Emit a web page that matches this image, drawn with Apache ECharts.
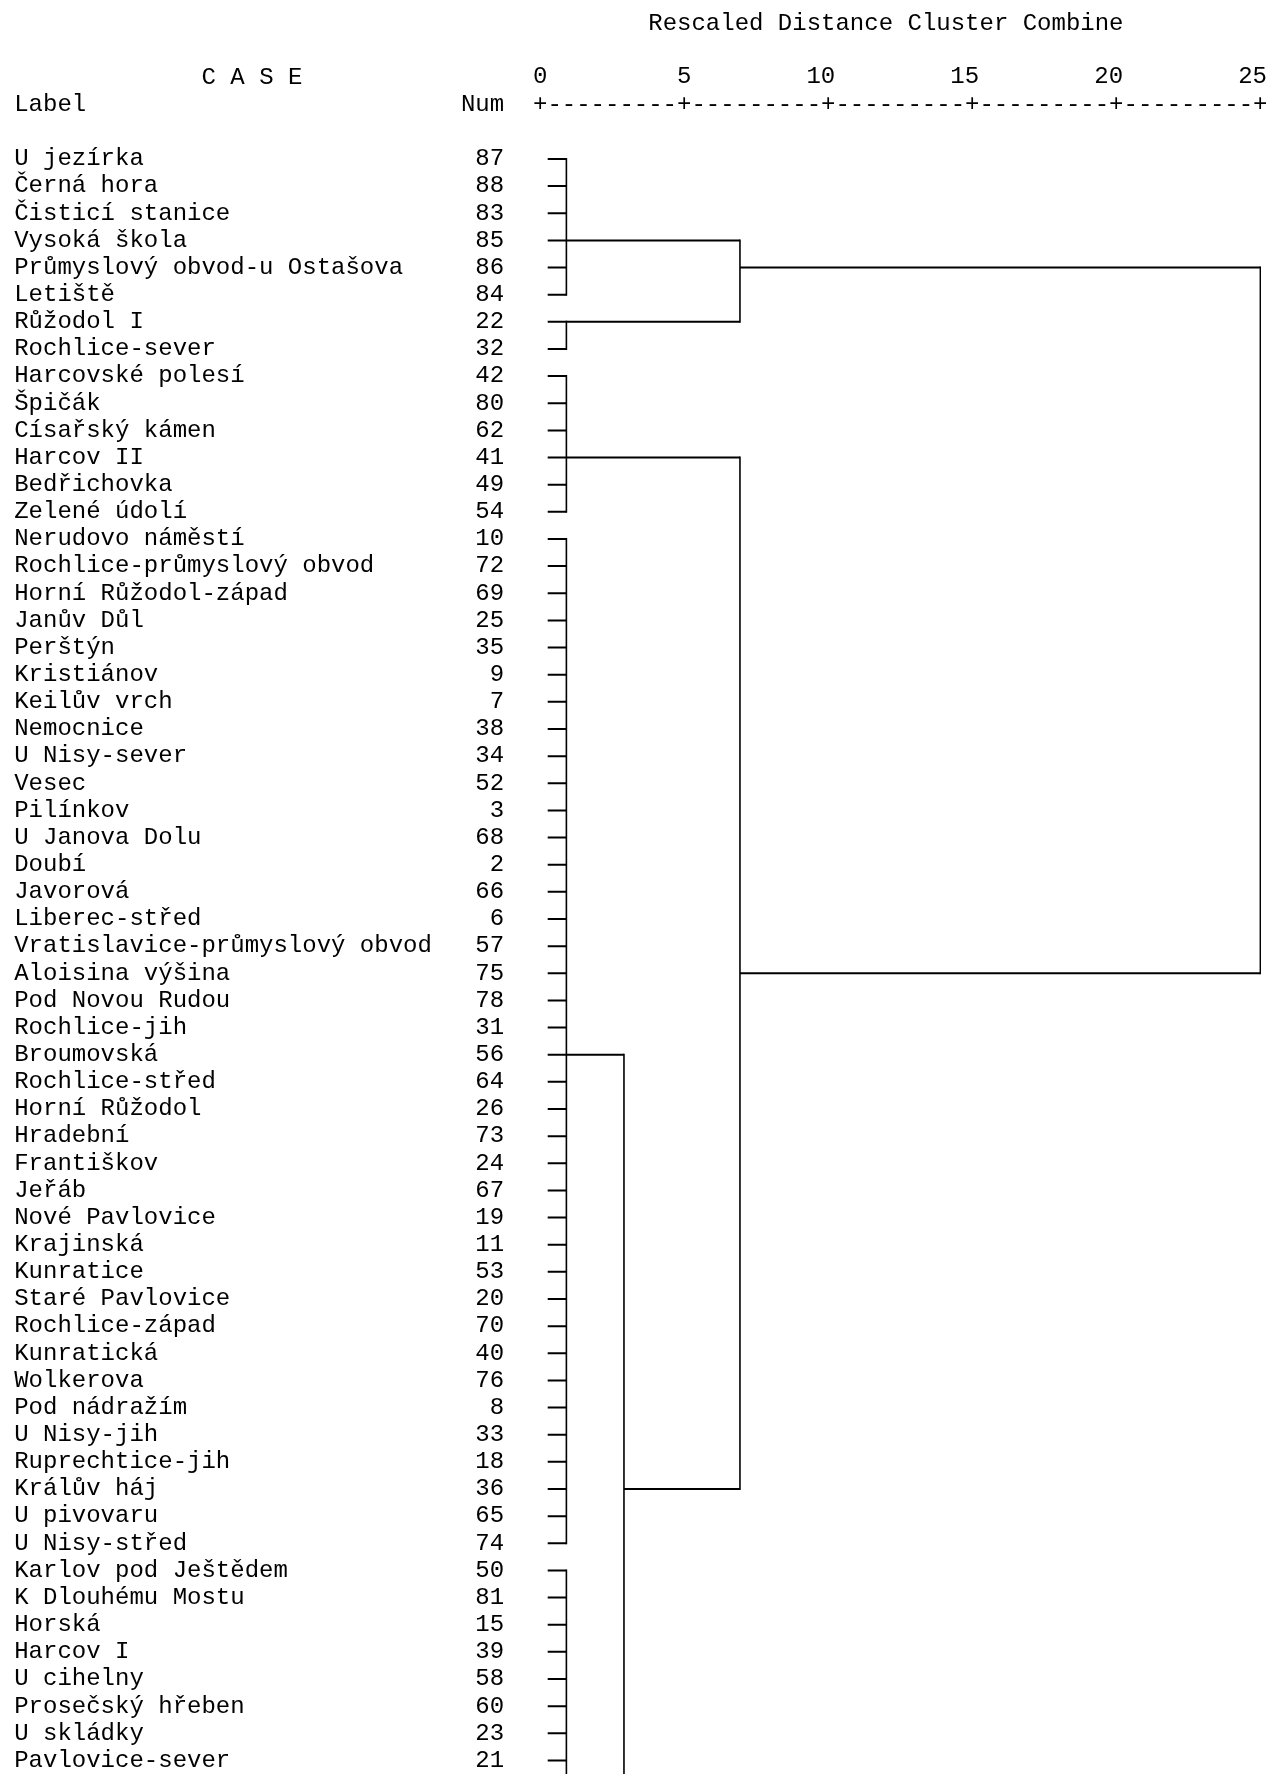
<!DOCTYPE html>
<html><head><meta charset="utf-8">
<script src="https://cdn.jsdelivr.net/npm/echarts@6/dist/echarts.min.js"></script>
<style>html,body{margin:0;padding:0;background:#fff}#c{width:1270px;height:1774px}</style>
</head><body><div id="c"></div>
<script>
// ---- data ----
const labels = [
  'U jezírka','Černá hora','Čisticí stanice','Vysoká škola','Průmyslový obvod-u Ostašova','Letiště',
  'Růžodol I','Rochlice-sever','Harcovské polesí','Špičák','Císařský kámen','Harcov II','Bedřichovka',
  'Zelené údolí','Nerudovo náměstí','Rochlice-průmyslový obvod','Horní Růžodol-západ','Janův Důl',
  'Perštýn','Kristiánov','Keilův vrch','Nemocnice','U Nisy-sever','Vesec','Pilínkov','U Janova Dolu',
  'Doubí','Javorová','Liberec-střed','Vratislavice-průmyslový obvod','Aloisina výšina','Pod Novou Rudou',
  'Rochlice-jih','Broumovská','Rochlice-střed','Horní Růžodol','Hradební','Františkov','Jeřáb',
  'Nové Pavlovice','Krajinská','Kunratice','Staré Pavlovice','Rochlice-západ','Kunratická','Wolkerova',
  'Pod nádražím','U Nisy-jih','Ruprechtice-jih','Králův háj','U pivovaru','U Nisy-střed',
  'Karlov pod Ještědem','K Dlouhému Mostu','Horská','Harcov I','U cihelny','Prosečský hřeben',
  'U skládky','Pavlovice-sever'
];
const nums = [87,88,83,85,86,84,22,32,42,80,62,41,49,54,10,72,69,25,35,9,7,38,34,52,3,68,2,66,6,57,
  75,78,31,56,64,26,73,24,67,19,11,53,20,70,40,76,8,33,18,36,65,74,50,81,15,39,58,60,23,21];
const tickValues = [0, 5, 10, 15, 20, 25];
const titleText = 'Rescaled Distance Cluster Combine';
const caseHeader = 'C A S E';
const labelHeader = 'Label';
const numHeader = 'Num';
const rulerText = '+---------+---------+---------+---------+---------+';
// first-level clusters: [id, firstRow, lastRow, junctionRow, rescaled distance]
// (cluster E continues below the visible part of the listing)
const leafClusters = [
  ['A', 0, 5, 3, 0.91],
  ['B', 6, 7, 6, 0.91],
  ['C', 8, 13, 11, 0.91],
  ['D', 14, 51, 33, 0.91],
  ['E', 52, 80, 67, 0.91]
];
// higher merges: [id, childA, childB, rescaled distance, junctionRow]
const merges = [
  ['AB', 'A', 'B', 6.94, 4],
  ['DE', 'D', 'E', 2.91, 49],
  ['CDE', 'C', 'DE', 6.94, 30],
  ['ROOT', 'AB', 'CDE', 25.02, 17]
];

// ---- styling / layout ----
const FONT = '"Liberation Mono", "Courier New", monospace';
const FS = 24;
const CH = 14.41;          // monospace character advance
const GRID = {left: 540.2, right: 9.3, top: 145.4, height: 1631.4};
const TEXT_X0 = 14.2;      // left edge of the text listing
const STUB_GAP = 7.5;
const INK = '#000';

const chart = echarts.init(document.getElementById('c'), null, {renderer: 'canvas'});

function renderItem(params, api) {
  const y0 = api.coord([0, 0])[1];
  const y1 = api.coord([0, 1])[1];
  const band = y1 - y0;
  const rowY = r => y0 + r * band;
  const X = d => api.coord([d, 0])[0];
  const xStart = X(0) + STUB_GAP;
  const hStyle = {stroke: INK, lineWidth: 2};
  const vStyle = {stroke: INK, lineWidth: 1.6};
  const children = [];
  const line = (x1, y1_, x2, y2, style) => children.push({type: 'line', shape: {x1: x1, y1: y1_, x2: x2, y2: y2}, style: style});
  const node = {};
  leafClusters.forEach(([id, a, b, j, d]) => {
    for (let r = a; r <= b; r++) line(xStart, rowY(r), X(d), rowY(r), hStyle);
    line(X(d), rowY(a) - 1, X(d), rowY(b) + 1, vStyle);
    node[id] = {d: d, row: j};
  });
  merges.forEach(([id, ca, cb, d, j]) => {
    const A = node[ca], B = node[cb];
    line(X(A.d), rowY(A.row), X(d), rowY(A.row), hStyle);
    line(X(B.d), rowY(B.row), X(d), rowY(B.row), hStyle);
    line(X(d), rowY(A.row) - 1, X(d), rowY(B.row) + 1, vStyle);
    node[id] = {d: d, row: j};
  });
  return {type: 'group', children: children};
}

const txt = (text, x, y, align) => ({
  type: 'text', x: x, y: y, silent: true,
  style: {text: text, font: FS + 'px ' + FONT, fill: INK,
          textAlign: align, align: align, textVerticalAlign: 'middle', verticalAlign: 'middle'}
});

const option = {
  backgroundColor: '#fff',
  animation: false,
  grid: {left: GRID.left, right: GRID.right, top: GRID.top, height: GRID.height, containLabel: false},
  xAxis: {
    type: 'value', min: 0, max: 25, interval: 5, position: 'top',
    axisLine: {show: false}, axisTick: {show: false}, splitLine: {show: false},
    axisLabel: {
      show: true, margin: 68.4, verticalAlign: 'middle',
      fontFamily: FONT, fontSize: FS, color: INK,
      formatter: v => tickValues.indexOf(v) < 0 ? '' : (String(v).length > 1 ? '{w|' + v + '}' : '{n|' + v + '}'),
      rich: {
        w: {fontFamily: FONT, fontSize: FS, color: INK, padding: [0, CH, 0, 0]},
        n: {fontFamily: FONT, fontSize: FS, color: INK}
      }
    }
  },
  yAxis: [
    {
      type: 'category', data: labels, inverse: true, position: 'left',
      axisLine: {show: false}, axisTick: {show: false}, splitLine: {show: false},
      axisLabel: {interval: 0, align: 'left', margin: GRID.left - TEXT_X0,
                  fontFamily: FONT, fontSize: FS, color: INK}
    },
    {
      type: 'category', data: nums.map(String), inverse: true, position: 'left',
      axisLine: {show: false}, axisTick: {show: false}, splitLine: {show: false},
      axisLabel: {interval: 0, align: 'right', margin: GRID.left - (TEXT_X0 + 34 * CH),
                  fontFamily: FONT, fontSize: FS, color: INK}
    }
  ],
  series: [{
    type: 'custom', clip: true, xAxisIndex: 0, yAxisIndex: 0,
    renderItem: renderItem, data: [[0, 0]], silent: true
  }]
};
chart.setOption(option);

// header texts of the listing, placed on the same character grid
const x0px = chart.convertToPixel({xAxisIndex: 0}, 0);
const rowTop = chart.convertToPixel({yAxisIndex: 0}, 0);
const rowStep = chart.convertToPixel({yAxisIndex: 0}, 1) - rowTop;
chart.setOption({
  graphic: [
    txt(titleText, TEXT_X0 + 44 * CH, rowTop - 5 * rowStep, 'left'),
    txt(caseHeader, TEXT_X0 + 13 * CH, rowTop - 3 * rowStep, 'left'),
    txt(labelHeader, TEXT_X0, rowTop - 2 * rowStep, 'left'),
    txt(numHeader, TEXT_X0 + 34 * CH, rowTop - 2 * rowStep, 'right'),
    txt(rulerText, x0px - CH / 2, rowTop - 2 * rowStep, 'left')
  ]
});
</script>
</body></html>
